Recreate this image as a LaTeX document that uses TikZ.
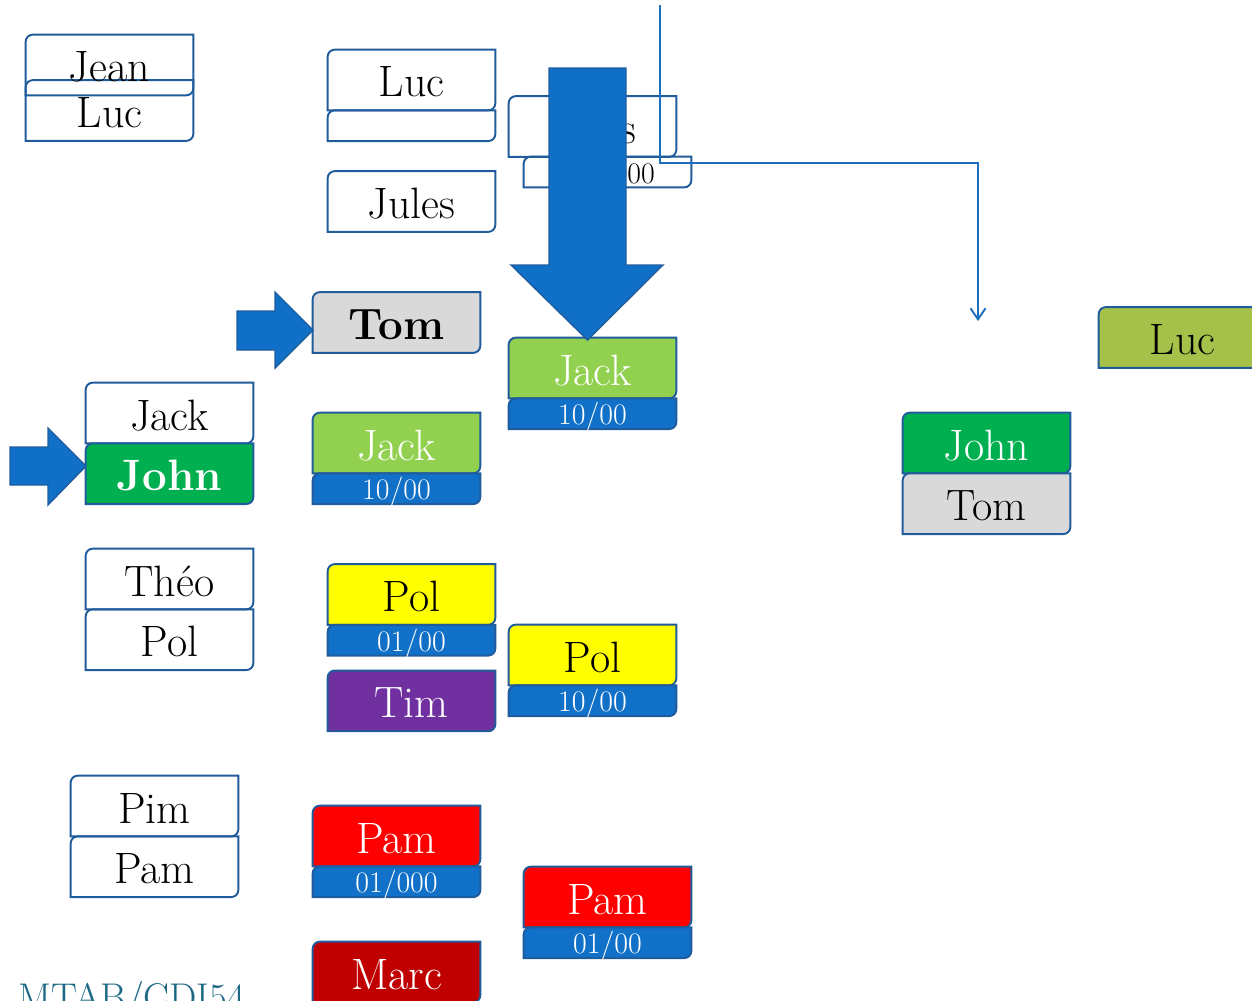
\documentclass[tikz,border=0pt]{standalone}
\usepackage{tikz}
\usetikzlibrary{positioning, backgrounds, arrows.meta}
\definecolor{edgeblue}{RGB}{32,92,156}
\definecolor{arrowblue}{RGB}{16,111,198}
\definecolor{linkblue}{RGB}{30,110,190}
\definecolor{datefill}{RGB}{17,112,200}
\definecolor{tomgray}{RGB}{217,217,217}
\definecolor{johngreen}{RGB}{0,176,80}
\definecolor{jackgreen}{RGB}{146,208,80}
\definecolor{polyellow}{RGB}{255,255,0}
\definecolor{timpurple}{RGB}{112,48,160}
\definecolor{pamred}{RGB}{255,0,0}
\definecolor{marcred}{RGB}{192,0,0}
\definecolor{lucolive}{RGB}{166,193,74}
\definecolor{footteal}{RGB}{28,104,132}
\tikzset{
namebox/.style={minimum width=3.34cm, minimum height=1.2cm, inner sep=0pt, text height=0.94cm, text depth=0.26cm, font=\fontsize{25}{30}\selectfont}, % one name on a card
datebox/.style={minimum width=3.34cm, minimum height=0.6cm, inner sep=0pt, text height=0.52cm, text depth=0.08cm, font=\fontsize{17}{20}\selectfont, text=white}, % date strip under a card
outline/.style={draw=edgeblue, line width=1.1pt},
blockarrow/.style={draw=edgeblue, fill=arrowblue, line width=0.8pt},
link/.style={draw=linkblue, line width=1.1pt, -{Straight Barb[length=0.22cm, width=0.3cm]}},
}
\begin{document}
\begin{tikzpicture}[x=0.02cm, y=-0.02cm]
\useasboundingbox (0,0) rectangle (1252,1001);
% first column
\node[namebox] (jean) at (109.5,65) {Jean};
\node[namebox] (luc1) at (109.5,110.5) {Luc};
\node[namebox] (jack1) at (169.5,413) {Jack};
\node[namebox, below=0pt of jack1, text=white] (john1) {\bfseries John};
\node[namebox] (theo) at (169.5,579) {Théo};
\node[namebox, below=0pt of theo] (pol1) {Pol};
\node[namebox] (pim) at (154.5,806) {Pim};
\node[namebox, below=0pt of pim] (pam1) {Pam};
% second column
\node[namebox] (luc2) at (411.5,80) {Luc};
\node[datebox, below=0pt of luc2] (luc2d) {};
\node[namebox] (jules1) at (411.5,201.5) {Jules};
\node[namebox] (tom1) at (396.5,322.5) {\bfseries Tom};
\node[namebox, text=white] (jack2) at (396.5,443) {Jack};
\node[datebox, below=0pt of jack2] (jack2d) {10/00};
\node[namebox] (pol2) at (411.5,594.5) {Pol};
\node[datebox, below=0pt of pol2] (pol2d) {01/00};
\node[namebox, below=0.3cm of pol2d, text=white] (tim) {Tim};
\node[namebox, text=white] (pam2) at (396.5,836) {Pam};
\node[datebox, below=0pt of pam2] (pam2d) {01/000};
\node[namebox, text=white] (marc) at (396.5,972) {Marc};
% third column
\node[namebox] (jules2) at (592.5,126.5) {Jules};
\node[datebox, text=black] (jules2d) at (607.5,172) {\hspace*{0.25cm}10/000};
\node[namebox, text=white] (jack3) at (592.5,368) {Jack};
\node[datebox, below=0pt of jack3] (jack3d) {10/00};
\node[namebox] (pol3) at (592.5,655) {Pol};
\node[datebox, below=0pt of pol3] (pol3d) {10/00};
\node[namebox, text=white] (pam3) at (607.5,897) {Pam};
\node[datebox, below=0pt of pam3] (pam3d) {01/00};
% right side
\node[namebox] (luc3) at (1182.5,337.5) {Luc};
\node[namebox, text=white] (john2) at (986.5,443) {John};
\node[namebox, below=0pt of john2] (tom2) {Tom};
\node[anchor=base west, inner sep=0pt, text=footteal, font=\fontsize{22}{26}\selectfont] (footer) at (18,1010) {MTAB/CDI54};
% cards: rounded top left and bottom right
\begin{scope}[on background layer]
\foreach \nm/\col in {jean/none, luc1/none, jack1/none, john1/johngreen, theo/none, pol1/none, pim/none, pam1/none,
    luc2/none, luc2d/none, jules1/none, tom1/tomgray, jack2/jackgreen, jack2d/datefill, pol2/polyellow, pol2d/datefill,
    tim/timpurple, pam2/pamred, pam2d/datefill, marc/marcred, jules2/none, jules2d/none, jack3/jackgreen, jack3d/datefill,
    pol3/polyellow, pol3d/datefill, pam3/pamred, pam3d/datefill, luc3/lucolive, john2/johngreen, tom2/tomgray}
  \path[outline, fill=\col] ([yshift=-0.14cm]\nm.north west) arc[start angle=180, end angle=90, radius=0.14cm]
    -- (\nm.north east) -- ([yshift=0.14cm]\nm.south east) arc[start angle=0, end angle=-90, radius=0.14cm]
    -- (\nm.south west) -- cycle;
\end{scope}
% block arrows
\draw[blockarrow] (549,68) -- (626,68) -- (626,265) -- (663,265) -- (587.5,340) -- (511,265) -- (549,265) -- cycle;
\draw[blockarrow] (237,311) -- (275,311) -- (275,292) -- (313,330) -- (275,368) -- (275,350) -- (237,350) -- cycle;
\draw[blockarrow] (10,447) -- (48,447) -- (48,428) -- (86,466) -- (48,505) -- (48,485) -- (10,485) -- cycle;
% thin connector
\coordinate (feed) at (660,5);
\coordinate (feedbend) at (660,163);
\coordinate (feedend) at (978,321);
\draw[link] (feed) -- (feedbend) -| (feedend);
\end{tikzpicture}
\end{document}
